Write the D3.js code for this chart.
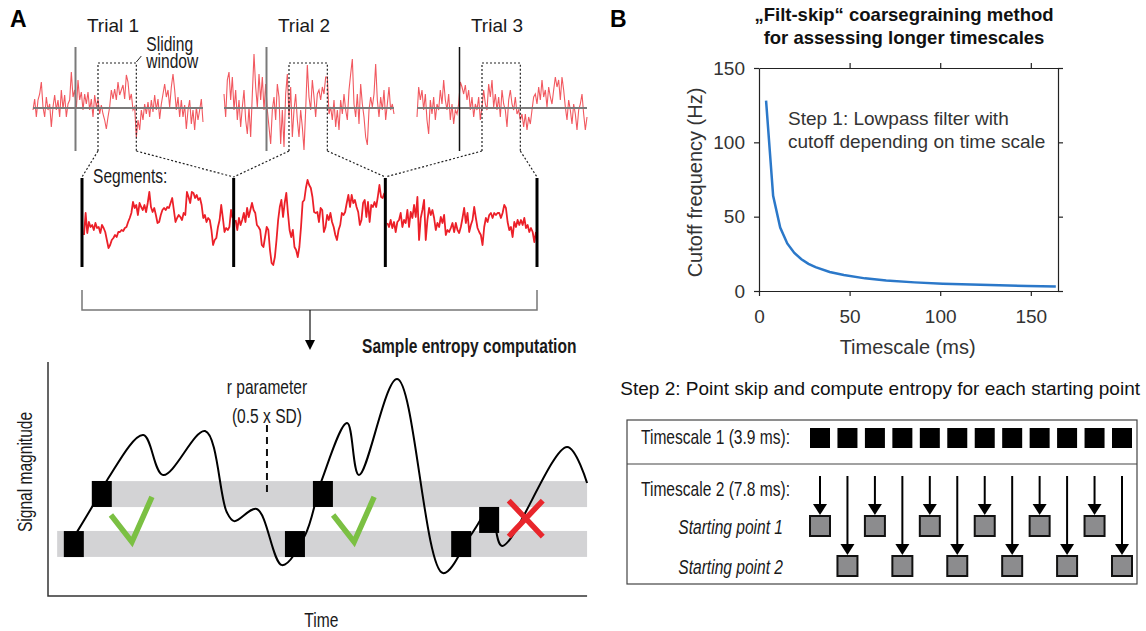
<!DOCTYPE html>
<html>
<head>
<meta charset="utf-8">
<script src="https://cdnjs.cloudflare.com/ajax/libs/d3/7.8.5/d3.min.js"></script>
<style>
body { margin: 0; background: #fff; }
</style>
</head>
<body>
<script>
// ----------------------------------- DATA --------------------------------------------
var trialLabels = ['Trial 1', 'Trial 2', 'Trial 3']

// raw traces
var trial1 = [-2,9,-9,8,14,26,1,-9,11,-2,4,-19,1,13,-2,8,-9,18,-1,13,-9,4,8,36,11,18,-1,28,8,16,
	-2,14,4,16,-2,9,-9,13,1,9,-6,3,-6,-12,-21,-9,1,18,9,19,8,26,13,18,23,9,33,26,8,14,
	-2,1,-29,-12,-22,-2,-12,4,-6,6,-9,8,-4,13,-2,9,-11,4,14,24,11,18,1,21,34,18,-2,11,-9,8,
	-9,3,-21,-2,8,-16,-2,-22,1,-12,-2,9,-14]
var trial2 = [14,-9,28,36,8,31,-2,18,-12,8,-19,1,18,-12,-26,1,-29,14,54,21,1,34,8,31,-2,24,-2,-19,-36,-2,
	11,-12,24,11,-36,-2,-39,14,34,-9,21,-29,-2,14,-12,-29,-2,-19,-42,-2,43,11,-2,28,11,-9,14,
	18,8,21,14,31,31,-6,1,-12,8,-19,-2,-22,8,-6,14,-2,-12,18,34,49,4,-9,14,-16,24,4,-9,-29,-37,
	-2,11,1,14,44,8,-9,11,-2,18,-12,4,21,-2,4,-6]
var trial3 = [-9,21,8,18,-2,14,-12,-26,8,-6,11,-12,4,-2,18,4,28,8,-2,14,-12,4,-16,-2,-6,4,26,21,14,23,
	8,18,-2,11,-9,4,-2,11,-12,1,18,4,-2,24,11,28,1,14,-2,11,-9,18,4,-2,-19,8,18,4,-2,11,
	-6,-2,-12,-6,-19,-6,-22,-9,-16,-2,11,14,4,21,8,28,11,18,1,21,11,4,18,31,21,28,8,31,18,1,
	-12,8,-2,-16,4,-6,-22,-2,4,14,-6,-22,-9]

var onsetIndex = 25.5
var windowRange = [39, 62]

var segment1 = [25,47,27,38,33,35,30,37,32,33,27,35,32,28,20,12,15,20,22,25,23,28,28,30,29,32,33,38,42,47,
	58,52,55,45,57,53,50,55,48,57,68,53,48,52,45,37,38,45,50,52,50,53,52,57,62,50,38,42,45,43,
	40,47,45,68,63,57,68,67,62,65,60,62,55,42,45,38,42,40,30,15,20,22,33,40,55,42,28,32,30,33,50,42]
var segment2 = [40,30,42,35,40,47,38,52,43,50,57,50,47,35,33,30,15,13,23,33,30,10,-3,-5,3,20,40,53,60,43,
	57,67,47,30,23,30,13,10,3,13,33,58,60,72,80,75,72,63,48,47,48,38,52,50,28,33,45,40,47,38,
	33,25,20,30,35,47,45,48,57,65,53,65,57,60,53,48,35,40,57,60,43,58,38,55,53,58,53,63,75,63,62,67]
var segment3 = [37,33,40,32,38,28,38,40,47,33,40,37,50,33,48,42,55,43,63,20,42,50,60,20,40,52,45,50,42,30,
	37,33,43,37,45,25,30,28,32,37,28,37,30,27,33,42,52,37,47,28,35,40,53,42,32,28,25,15,33,42,
	38,45,47,42,47,45,47,47,42,47,55,52,38,30,33,23,38,33,40,35,40,35,42,32,35,28,32,28,18,28]
var segments = [segment1, segment2, segment3]

// sample entropy schematic (time in % of window, magnitude in a.u.)
var curveTime = [5.4, 8.4, 11.0, 17.7, 21.4, 29.2, 33.2, 34.6, 38.8, 43.5, 47.8, 50.9, 55.6, 57.8, 64.9, 73.4, 78.6, 82.2, 84.4, 96.5, 100.2]
var curveMag = [2.74, 3.89, 4.96, 6.88, 5.17, 7.05, 3.6, 3.2, 3.72, 1.32, 2.61, 4.96, 7.39, 5.17, 9.27, 0.98, 2.61, 3.68, 2.14, 6.37, 4.83]
var templateTime = [4.8, 10.0, 45.9, 51.1, 76.8, 82.0]
var templateMag = [2.22, 4.36, 2.22, 4.36, 2.22, 3.25]
var bandLow = [1.67, 2.78]
var bandHigh = [3.80, 4.91]
var bandStart = [1.7, 8.2]
var matchTime = [15.6, 56.9]
var mismatchTime = [88.8]
var rParamTime = 40.7

// filt-skip cutoff
var timescaleMs = [3.9, 7.8, 11.7, 15.6, 19.5, 23.4, 27.3, 31.2, 39, 46.8, 58.5, 70.2, 85.8, 101.4, 117, 132.6, 148.2, 163.8]
var cutoffHz = [128, 64, 42.7, 32, 25.6, 21.4, 18.3, 16, 12.8, 10.7, 8.5, 7.1, 5.8, 4.9, 4.3, 3.8, 3.4, 3.1]
var xTicks = [0, 50, 100, 150]
var yTicks = [0, 50, 100, 150]

var pointIndex = d3.range(12)
var rowLabels = ['Timescale 1 (3.9 ms):', 'Timescale 2 (7.8 ms):']
var startLabels = ['Starting point 1', 'Starting point 2']
// ----------------------------------------------------------------------------------------------

var width = 1146
var height = 631
var sans = '"Liberation Sans", Arial, Helvetica, sans-serif'
var red = '#ec2029'

var svg = d3.select('body')
			.append('svg')
			.attr('width', width)
			.attr('height', height)

svg.append('rect')
	.attr('width', '100%')
	.attr('height', '100%')
	.attr('fill', 'white')

// text helper; narrow: true squeezes the glyphs like a condensed face
function label(g, x, y, txt, size, opts) {
	opts = opts || {}
	var t = g.append('text')
		.attr('font-family', sans)
		.attr('font-size', size)
		.attr('font-weight', opts.weight || 'normal')
		.attr('font-style', opts.style || 'normal')
		.attr('text-anchor', opts.anchor || 'start')
		.attr('fill', opts.fill || '#1a1a1a')
	if (Array.isArray(txt)) {
		txt.forEach(function(line, i) {
			t.append('tspan').attr('x', 0).attr('dy', i ? opts.lineHeight : 0).text(line)
		})
	} else {
		t.text(txt)
	}
	var tf = 'translate(' + x + ',' + y + ')'
	if (opts.rotate) tf += ' rotate(' + opts.rotate + ')'
	if (opts.narrow) tf += ' scale(0.76,1)'
	return t.attr('transform', tf)
}

label(svg, 10, 27, 'A', 23, {weight: 'bold', fill: '#000'})
label(svg, 610, 27, 'B', 23, {weight: 'bold', fill: '#000'})

// ----------------------------------- TRIALS --------------------------------------------
var trialX = [[33, 203], [224, 394], [417, 587]]
var trialY = d3.scaleLinear().domain([-50, 50]).range([158, 58])
var trials = [trial1, trial2, trial3]

var segX = d3.scaleLinear().domain([0, 3]).range([82, 537])

trials.forEach(function(tr, k) {
	var x = d3.scaleLinear().domain([0, tr.length - 1]).range(trialX[k])
	var g = svg.append('g')

	label(g, (trialX[k][0] + trialX[k][1]) / 2 - 5, 32, trialLabels[k], 19, {anchor: 'middle'})

	g.append('path')
		.datum(tr)
		.attr('fill', 'none')
		.attr('stroke', red)
		.attr('stroke-opacity', 0.75)
		.attr('stroke-width', 1.1)
		.attr('d', d3.line().x(function(d, i){ return x(i) }).y(function(d){ return trialY(d) }))

	g.append('line')
		.attr('x1', x(0)).attr('x2', x(tr.length - 1))
		.attr('y1', trialY(0)).attr('y2', trialY(0))
		.attr('stroke', '#7a7a7a')
		.attr('stroke-width', 2)

	g.append('line')
		.attr('x1', x(onsetIndex)).attr('x2', x(onsetIndex))
		.attr('y1', 47).attr('y2', 151)
		.attr('stroke', k == 2 ? '#111' : '#7a7a7a')
		.attr('stroke-width', k == 2 ? 1.5 : 2)

	// sliding window and connectors to the segments
	var w0 = x(windowRange[0]), w1 = x(windowRange[1])
	var dotted = function(sel){ return sel.attr('fill', 'none').attr('stroke', '#222').attr('stroke-width', 1.2).attr('stroke-dasharray', '2,2') }
	g.append('path')
		.attr('d', 'M' + w0 + ',151V63H' + w1 + 'V151')
		.call(dotted)
	g.append('path')
		.attr('d', 'M' + w0 + ',151L' + segX(k) + ',177M' + w1 + ',151L' + segX(k + 1) + ',177')
		.call(dotted)

	if (k == 0) {
		g.append('line')
			.attr('x1', w1).attr('y1', 62).attr('x2', w1 + 5).attr('y2', 56)
			.attr('stroke', '#222').attr('stroke-width', 1)
		label(g, w1 + 10, 51, ['Sliding', 'window'], 20.5, {narrow: true, lineHeight: 17})
	}
})

// ----------------------------------- SEGMENTS --------------------------------------------
var segY = d3.scaleLinear().domain([0, 100]).range([260, 160])

segments.forEach(function(s, k) {
	var x = d3.scaleLinear().domain([0, s.length - 1]).range([segX(k) + 2, segX(k + 1) - 1])
	svg.append('path')
		.datum(s)
		.attr('fill', 'none')
		.attr('stroke', red)
		.attr('stroke-width', 1.8)
		.attr('stroke-linejoin', 'round')
		.attr('d', d3.line().x(function(d, i){ return x(i) }).y(function(d){ return segY(d) }))
})

svg.selectAll('.segbar')
	.data(d3.range(4))
	.enter()
	.append('line')
	.attr('x1', function(d){ return segX(d) })
	.attr('x2', function(d){ return segX(d) })
	.attr('y1', 178).attr('y2', 267)
	.attr('stroke', '#000')
	.attr('stroke-width', 3)

label(svg, 93, 183, 'Segments:', 20.5, {narrow: true})

// bracket + arrow
svg.append('path')
	.attr('d', 'M' + segX(0) + ',290V310H' + segX(3) + 'V290')
	.attr('fill', 'none')
	.attr('stroke', '#777')
	.attr('stroke-width', 1.5)
svg.append('line')
	.attr('x1', 310).attr('x2', 310).attr('y1', 310).attr('y2', 342)
	.attr('stroke', '#111').attr('stroke-width', 1.2)
svg.append('path')
	.attr('d', 'M305,340L315,340L310,350Z')
	.attr('fill', '#000')

label(svg, 362, 353, 'Sample entropy computation', 20.5, {narrow: true, weight: 'bold'})

// ----------------------------------- SAMPLE ENTROPY --------------------------------------------
var ex = d3.scaleLinear().domain([0, 100]).range([48, 586])
var ey = d3.scaleLinear().domain([0, 10]).range([596, 362])

var bands = [bandLow, bandHigh]
svg.selectAll('.band')
	.data(bands)
	.enter()
	.append('rect')
	.attr('x', function(d, i){ return ex(bandStart[i]) })
	.attr('width', function(d, i){ return ex(100.2) - ex(bandStart[i]) })
	.attr('y', function(d){ return ey(d[1]) })
	.attr('height', function(d){ return ey(d[0]) - ey(d[1]) })
	.attr('fill', '#d3d3d5')

svg.append('path')
	.datum(d3.zip(curveTime, curveMag))
	.attr('fill', 'none')
	.attr('stroke', '#000')
	.attr('stroke-width', 2)
	.attr('d', d3.line().curve(d3.curveCatmullRom.alpha(0.5)).x(function(d){ return ex(d[0]) }).y(function(d){ return ey(d[1]) }))

svg.selectAll('.tpl')
	.data(d3.zip(templateTime, templateMag))
	.enter()
	.append('rect')
	.attr('x', function(d){ return ex(d[0]) - 10 })
	.attr('y', function(d){ return ey(d[1]) - 13 })
	.attr('width', 20)
	.attr('height', 26)
	.attr('fill', '#000')

svg.selectAll('.check')
	.data(matchTime)
	.enter()
	.append('path')
	.attr('d', function(d){
		var x0 = ex(d), y0 = ey(2.31)
		return 'M' + (x0 - 21) + ',' + (y0 - 27) + 'L' + x0 + ',' + y0 + 'L' + (x0 + 20) + ',' + (y0 - 45)
	})
	.attr('fill', 'none')
	.attr('stroke', '#7bc043')
	.attr('stroke-width', 5.5)

svg.selectAll('.cross')
	.data(mismatchTime)
	.enter()
	.append('path')
	.attr('d', function(d){
		var x0 = ex(d), y0 = ey(3.31)
		return 'M' + (x0 - 17) + ',' + (y0 - 18) + 'L' + (x0 + 17) + ',' + (y0 + 18) +
			'M' + (x0 + 17) + ',' + (y0 - 18) + 'L' + (x0 - 17) + ',' + (y0 + 18)
	})
	.attr('stroke', '#e8262c')
	.attr('stroke-width', 5.5)

svg.append('line')
	.attr('x1', ex(rParamTime)).attr('x2', ex(rParamTime))
	.attr('y1', ey(7.31)).attr('y2', ey(4.44))
	.attr('stroke', '#111')
	.attr('stroke-width', 2)
	.attr('stroke-dasharray', '7,5')
label(svg, ex(rParamTime), 394, 'r parameter', 20.5, {narrow: true, anchor: 'middle'})
label(svg, ex(rParamTime), 423, '(0.5 x SD)', 20.5, {narrow: true, anchor: 'middle'})

// axes
svg.append('path')
	.attr('d', 'M' + ex(0) + ',' + ey(10) + 'V' + ey(0) + 'H' + ex(100.2))
	.attr('fill', 'none')
	.attr('stroke', '#333')
	.attr('stroke-width', 1.5)
label(svg, ex(50.8), 627, 'Time', 20.5, {narrow: true, anchor: 'middle'})
label(svg, 32, ey(5.3), 'Signal magnitude', 20.5, {narrow: true, anchor: 'middle', rotate: -90})

// ----------------------------------- PANEL B: CUTOFF --------------------------------------------
var bx = d3.scaleLinear().domain([0, 165]).range([759, 1058])
var by = d3.scaleLinear().domain([0, 150]).range([291, 68])

label(svg, 904, 21, '\u201EFilt-skip\u201C coarsegraining method', 18.5, {weight: 'bold', anchor: 'middle', fill: '#111'})
label(svg, 904, 44, 'for assessing longer timescales', 18.5, {weight: 'bold', anchor: 'middle', fill: '#111'})

function styleAxis(g) {
	g.selectAll('path, line').attr('stroke', '#222').attr('stroke-width', 1.2)
	g.selectAll('text').attr('font-family', sans).attr('font-size', 19).attr('fill', '#333')
}

svg.append('g')
	.attr('transform', 'translate(0,' + by(0) + ')')
	.call(d3.axisBottom(bx).tickValues(xTicks).tickSize(5).tickSizeOuter(0).tickPadding(14))
	.call(styleAxis)
svg.append('g')
	.attr('transform', 'translate(0,' + by(150) + ')')
	.call(d3.axisTop(bx).tickValues([50, 100, 150]).tickSize(5).tickSizeOuter(0).tickFormat(''))
	.call(styleAxis)
svg.append('g')
	.attr('transform', 'translate(' + bx(0) + ',0)')
	.call(d3.axisLeft(by).tickValues(yTicks).tickSize(5).tickSizeOuter(0).tickPadding(9))
	.call(styleAxis)
svg.append('g')
	.attr('transform', 'translate(' + bx(165) + ',0)')
	.call(d3.axisRight(by).tickValues(yTicks).tickSize(5).tickSizeOuter(0).tickFormat(''))
	.call(styleAxis)

svg.append('path')
	.datum(d3.zip(timescaleMs, cutoffHz))
	.attr('fill', 'none')
	.attr('stroke', '#2b78c9')
	.attr('stroke-width', 2.5)
	.attr('d', d3.line().x(function(d){ return bx(d[0]) }).y(function(d){ return by(d[1]) }))

label(svg, 788, 125, 'Step 1: Lowpass filter with', 19, {fill: '#333'})
label(svg, 788, 148, 'cutoff depending on time scale', 19, {fill: '#333'})
label(svg, bx(82), 354, 'Timescale (ms)', 20, {anchor: 'middle', fill: '#333'})
label(svg, 702, by(73), 'Cutoff frequency (Hz)', 20, {anchor: 'middle', fill: '#333', rotate: -90})

// ----------------------------------- PANEL B: POINT SKIP --------------------------------------------
label(svg, 1140, 395, 'Step 2: Point skip and compute entropy for each starting point', 19, {anchor: 'end', fill: '#111'})

svg.append('rect')
	.attr('x', 627).attr('y', 420).attr('width', 510).attr('height', 164)
	.attr('fill', 'none').attr('stroke', '#444').attr('stroke-width', 1.2)
svg.append('line')
	.attr('x1', 627).attr('x2', 1137).attr('y1', 464).attr('y2', 464)
	.attr('stroke', '#444').attr('stroke-width', 1.2)

var px = d3.scaleLinear().domain([0, 11]).range([820, 1122])

label(svg, 641, 444, rowLabels[0], 20.5, {narrow: true})
label(svg, 641, 496, rowLabels[1], 20.5, {narrow: true})
label(svg, 783, 534, startLabels[0], 20.5, {narrow: true, style: 'italic', anchor: 'end'})
label(svg, 783, 574, startLabels[1], 20.5, {narrow: true, style: 'italic', anchor: 'end'})

svg.selectAll('.ts1')
	.data(pointIndex)
	.enter()
	.append('rect')
	.attr('x', function(d){ return px(d) - 10 })
	.attr('y', 428)
	.attr('width', 20).attr('height', 20)
	.attr('fill', '#000')

var rowTop = [516, 556]
var arrows = svg.selectAll('.arr')
	.data(pointIndex)
	.enter()
	.append('g')

arrows.append('line')
	.attr('x1', function(d){ return px(d) })
	.attr('x2', function(d){ return px(d) })
	.attr('y1', 476)
	.attr('y2', function(d){ return rowTop[d % 2] - 8 })
	.attr('stroke', '#000').attr('stroke-width', 2)
arrows.append('path')
	.attr('d', function(d){
		var x0 = px(d), y0 = rowTop[d % 2] - 1
		return 'M' + (x0 - 7) + ',' + (y0 - 11) + 'L' + (x0 + 7) + ',' + (y0 - 11) + 'L' + x0 + ',' + y0 + 'Z'
	})
	.attr('fill', '#000')
arrows.append('rect')
	.attr('x', function(d){ return px(d) - 10 })
	.attr('y', function(d){ return rowTop[d % 2] })
	.attr('width', 20).attr('height', 20)
	.attr('fill', '#8c8c8e')
	.attr('stroke', '#111')
	.attr('stroke-width', 2)
</script>
</body>
</html>
